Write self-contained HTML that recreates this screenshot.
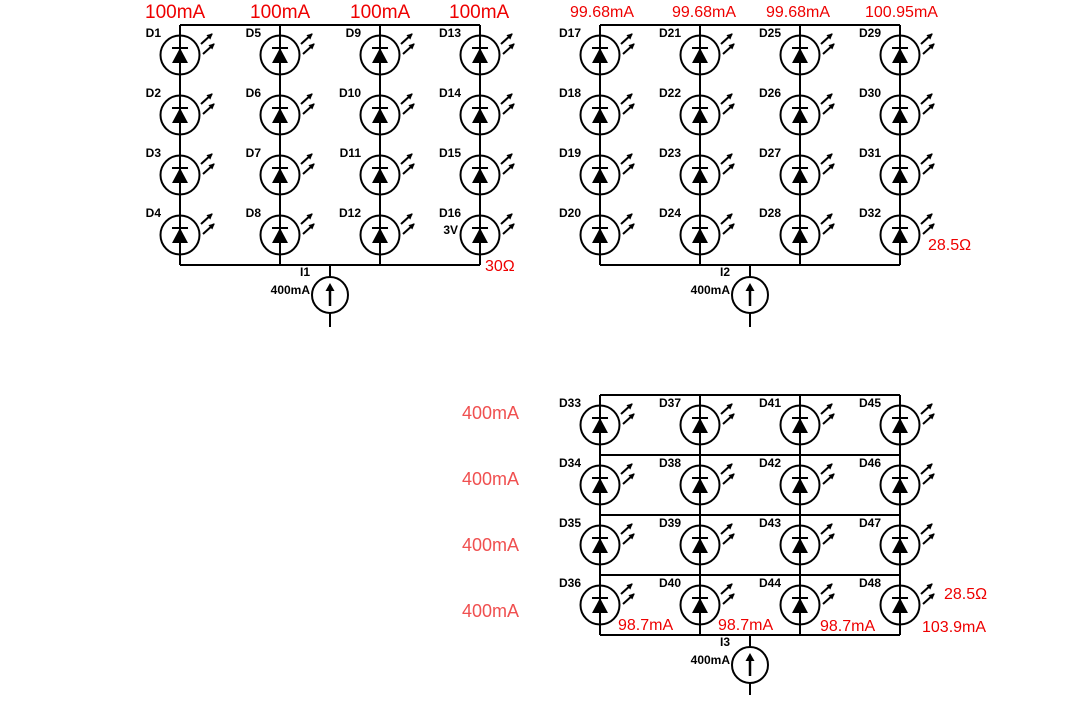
<!DOCTYPE html>
<html><head><meta charset="utf-8"><style>
html,body{margin:0;padding:0;background:#fff;}
svg{display:block;}
.d{font:bold 12px "Liberation Sans",sans-serif;fill:#000;}
.r{font:16px "Liberation Sans",sans-serif;fill:#e00;}
.rb{font:19px "Liberation Sans",sans-serif;fill:#e00;}
.p{font:18px "Liberation Sans",sans-serif;fill:#f05050;}
</style></head><body>
<svg width="1080" height="720" viewBox="0 0 1080 720" xmlns="http://www.w3.org/2000/svg">
<defs>
<marker id="ah" markerWidth="6" markerHeight="6" refX="5" refY="3" orient="auto" markerUnits="userSpaceOnUse"><path d="M0,0 L6,3 L0,6 z" fill="#000"/></marker>
<g id="led">
<circle cx="0" cy="0" r="19.5" fill="none" stroke="#000" stroke-width="2"/>
<path d="M-8,8 L8,8 L0,-7 z" fill="#000"/>
<line x1="-8" y1="-7" x2="8" y2="-7" stroke="#000" stroke-width="2"/>
<line x1="21" y1="-11" x2="32" y2="-21" stroke="#000" stroke-width="2" marker-end="url(#ah)"/>
<line x1="23" y1="-1" x2="34" y2="-11" stroke="#000" stroke-width="2" marker-end="url(#ah)"/>
</g>
<g id="src">
<circle cx="0" cy="0" r="18" fill="none" stroke="#000" stroke-width="2"/>
<line x1="0" y1="11" x2="0" y2="-6" stroke="#000" stroke-width="2.5"/>
<path d="M-4.5,-4 L4.5,-4 L0,-12 z" fill="#000"/>
</g>
</defs>
<g stroke="#000" stroke-width="2" fill="none">
<path d="M180,25 H480 M180,265 H480 M180,25 V265 M280,25 V265 M380,25 V265 M480,25 V265 M330,265 V277 M330,313 V327"/>
<path d="M600,25 H900 M600,265 H900 M600,25 V265 M700,25 V265 M800,25 V265 M900,25 V265 M750,265 V277 M750,313 V327"/>
<path d="M600,395 H900 M600,455 H900 M600,515 H900 M600,575 H900 M600,635 H900 M600,395 V635 M700,395 V635 M800,395 V635 M900,395 V635 M750,635 V647 M750,683 V695"/>
</g>
<g fill="#fff">
<use href="#led" x="180" y="55"/><use href="#led" x="180" y="115"/><use href="#led" x="180" y="175"/><use href="#led" x="180" y="235"/>
<use href="#led" x="280" y="55"/><use href="#led" x="280" y="115"/><use href="#led" x="280" y="175"/><use href="#led" x="280" y="235"/>
<use href="#led" x="380" y="55"/><use href="#led" x="380" y="115"/><use href="#led" x="380" y="175"/><use href="#led" x="380" y="235"/>
<use href="#led" x="480" y="55"/><use href="#led" x="480" y="115"/><use href="#led" x="480" y="175"/><use href="#led" x="480" y="235"/>
<use href="#led" x="600" y="55"/><use href="#led" x="600" y="115"/><use href="#led" x="600" y="175"/><use href="#led" x="600" y="235"/>
<use href="#led" x="700" y="55"/><use href="#led" x="700" y="115"/><use href="#led" x="700" y="175"/><use href="#led" x="700" y="235"/>
<use href="#led" x="800" y="55"/><use href="#led" x="800" y="115"/><use href="#led" x="800" y="175"/><use href="#led" x="800" y="235"/>
<use href="#led" x="900" y="55"/><use href="#led" x="900" y="115"/><use href="#led" x="900" y="175"/><use href="#led" x="900" y="235"/>
<use href="#led" x="600" y="425"/><use href="#led" x="600" y="485"/><use href="#led" x="600" y="545"/><use href="#led" x="600" y="605"/>
<use href="#led" x="700" y="425"/><use href="#led" x="700" y="485"/><use href="#led" x="700" y="545"/><use href="#led" x="700" y="605"/>
<use href="#led" x="800" y="425"/><use href="#led" x="800" y="485"/><use href="#led" x="800" y="545"/><use href="#led" x="800" y="605"/>
<use href="#led" x="900" y="425"/><use href="#led" x="900" y="485"/><use href="#led" x="900" y="545"/><use href="#led" x="900" y="605"/>
<use href="#src" x="330" y="295"/><use href="#src" x="750" y="295"/><use href="#src" x="750" y="665"/>
</g>
<g class="d" text-anchor="end">
<text x="161" y="37">D1</text><text x="161" y="97">D2</text><text x="161" y="157">D3</text><text x="161" y="217">D4</text>
<text x="261" y="37">D5</text><text x="261" y="97">D6</text><text x="261" y="157">D7</text><text x="261" y="217">D8</text>
<text x="361" y="37">D9</text><text x="361" y="97">D10</text><text x="361" y="157">D11</text><text x="361" y="217">D12</text>
<text x="461" y="37">D13</text><text x="461" y="97">D14</text><text x="461" y="157">D15</text><text x="461" y="217">D16</text>
<text x="458" y="234">3V</text>
<text x="581" y="37">D17</text><text x="581" y="97">D18</text><text x="581" y="157">D19</text><text x="581" y="217">D20</text>
<text x="681" y="37">D21</text><text x="681" y="97">D22</text><text x="681" y="157">D23</text><text x="681" y="217">D24</text>
<text x="781" y="37">D25</text><text x="781" y="97">D26</text><text x="781" y="157">D27</text><text x="781" y="217">D28</text>
<text x="881" y="37">D29</text><text x="881" y="97">D30</text><text x="881" y="157">D31</text><text x="881" y="217">D32</text>
<text x="581" y="407">D33</text><text x="581" y="467">D34</text><text x="581" y="527">D35</text><text x="581" y="587">D36</text>
<text x="681" y="407">D37</text><text x="681" y="467">D38</text><text x="681" y="527">D39</text><text x="681" y="587">D40</text>
<text x="781" y="407">D41</text><text x="781" y="467">D42</text><text x="781" y="527">D43</text><text x="781" y="587">D44</text>
<text x="881" y="407">D45</text><text x="881" y="467">D46</text><text x="881" y="527">D47</text><text x="881" y="587">D48</text>
<text x="310" y="276">I1</text><text x="310" y="294">400mA</text>
<text x="730" y="276">I2</text><text x="730" y="294">400mA</text>
<text x="730" y="646">I3</text><text x="730" y="664">400mA</text>
</g>
<g class="rb">
<text x="145" y="18">100mA</text><text x="250" y="18">100mA</text><text x="350" y="18">100mA</text><text x="449" y="18">100mA</text>
</g>
<g class="r">
<text x="570" y="17">99.68mA</text><text x="672" y="17">99.68mA</text><text x="766" y="17">99.68mA</text><text x="865" y="17">100.95mA</text>
<text x="485" y="271">30Ω</text>
<text x="928" y="250">28.5Ω</text>
<text x="944" y="599">28.5Ω</text>
<text x="618" y="630">98.7mA</text><text x="718" y="630">98.7mA</text><text x="820" y="631">98.7mA</text><text x="922" y="632">103.9mA</text>
</g>
<g class="p">
<text x="462" y="419">400mA</text><text x="462" y="485">400mA</text><text x="462" y="551">400mA</text><text x="462" y="617">400mA</text>
</g>
</svg>
</body></html>
